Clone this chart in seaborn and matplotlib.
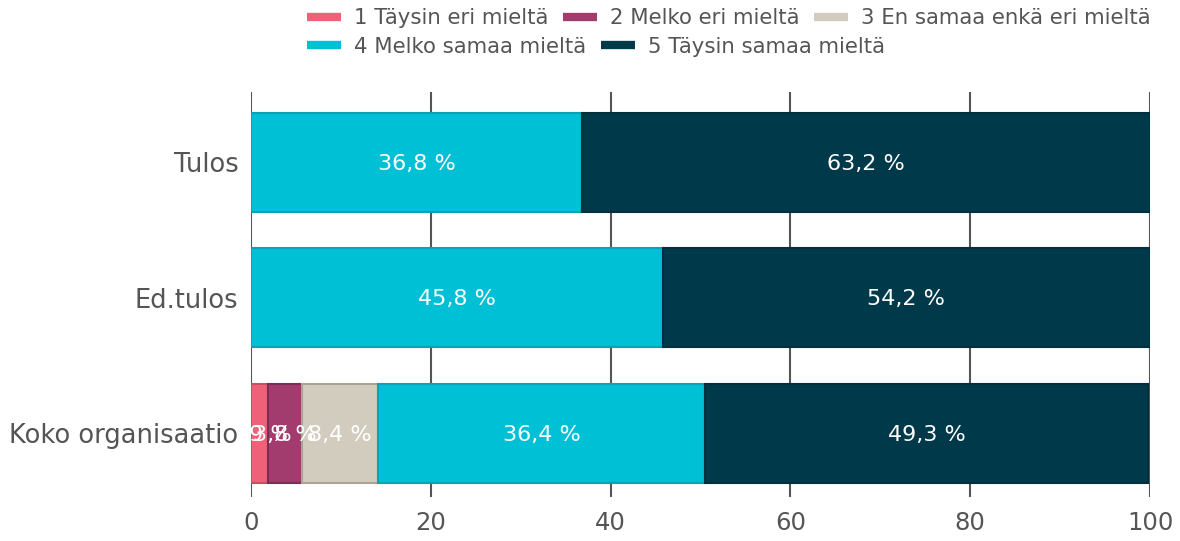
import pandas as pd
import matplotlib.pyplot as plt
import seaborn as sns
from matplotlib.lines import Line2D

# Data
ryhmat = ['Tulos', 'Ed.tulos', 'Koko organisaatio']
vastaukset = ['1 Täysin eri mieltä', '2 Melko eri mieltä', '3 En samaa enkä eri mieltä',
              '4 Melko samaa mieltä', '5 Täysin samaa mieltä']
arvo_1 = [0.0, 0.0, 1.9]
arvo_2 = [0.0, 0.0, 3.8]
arvo_3 = [0.0, 0.0, 8.4]
arvo_4 = [36.8, 45.8, 36.4]
arvo_5 = [63.2, 54.2, 49.3]
varit = ['#ef6179', '#a33c6e', '#d2ccbe', '#00c0d6', '#003a4a']
reunat = ['#c94f64', '#7f2c55', '#aaa497', '#0aa3b5', '#00303d']

df = pd.DataFrame({'ryhma': ryhmat, 'a1': arvo_1, 'a2': arvo_2, 'a3': arvo_3,
                   'a4': arvo_4, 'a5': arvo_5})
sarakkeet = ['a1', 'a2', 'a3', 'a4', 'a5']

sns.set_style('white')
plt.rcParams['font.family'] = ['DejaVu Sans']
harmaa = '#555555'

fig, ax = plt.subplots(figsize=(11.8, 5.41), dpi=100)
fig.subplots_adjust(left=0.2127, right=0.9746, top=0.83, bottom=0.081)

# pinotut palkit: jokainen vastausluokka alkaa edellisten summasta
vasen = pd.Series([0.0] * len(df))
for i, s in enumerate(sarakkeet):
    sns.barplot(data=df, y='ryhma', x=s, orient='y', color=varit[i], left=vasen.values,
                width=0.73, edgecolor=reunat[i], linewidth=1.5, saturation=1, ax=ax, zorder=2)
    for j, v in enumerate(df[s]):
        if v > 0:
            ax.text(vasen[j] + v / 2, j + 0.01, f'{v:.1f} %'.replace('.', ','), ha='center',
                    va='center', color='white', fontsize=16, clip_on=True, zorder=3)
    vasen = vasen + df[s]

ax.set_xlim(0, 100)
ax.set_ylim(2.47, -0.52)
ax.set_xticks([0, 20, 40, 60, 80, 100])
ax.xaxis.grid(True, color=harmaa, linewidth=1.5, zorder=0)
ax.set_axisbelow(True)
for sp in ax.spines.values():
    sp.set_visible(False)
ax.tick_params(axis='x', length=0, labelsize=17.5, colors=harmaa, pad=10)
ax.tick_params(axis='y', length=0, labelsize=18.5, colors=harmaa, pad=9)
ax.set_xlabel('')
ax.set_ylabel('')

kahvat = [Line2D([0], [0], color=c, lw=6, solid_capstyle='butt') for c in varit]
leg1 = fig.legend(kahvat[:3], vastaukset[:3], loc='upper left', bbox_to_anchor=(0.253, 1.0),
                  ncol=3, frameon=False, fontsize=15.3, handlelength=1.6, columnspacing=0.7,
                  handletextpad=0.6, labelcolor=harmaa, borderaxespad=0)
leg2 = fig.legend(kahvat[3:], vastaukset[3:], loc='upper left', bbox_to_anchor=(0.253, 0.948),
                  ncol=2, frameon=False, fontsize=15.3, handlelength=1.6, columnspacing=0.7,
                  handletextpad=0.6, labelcolor=harmaa, borderaxespad=0)

plt.savefig('out.png', dpi=100)
